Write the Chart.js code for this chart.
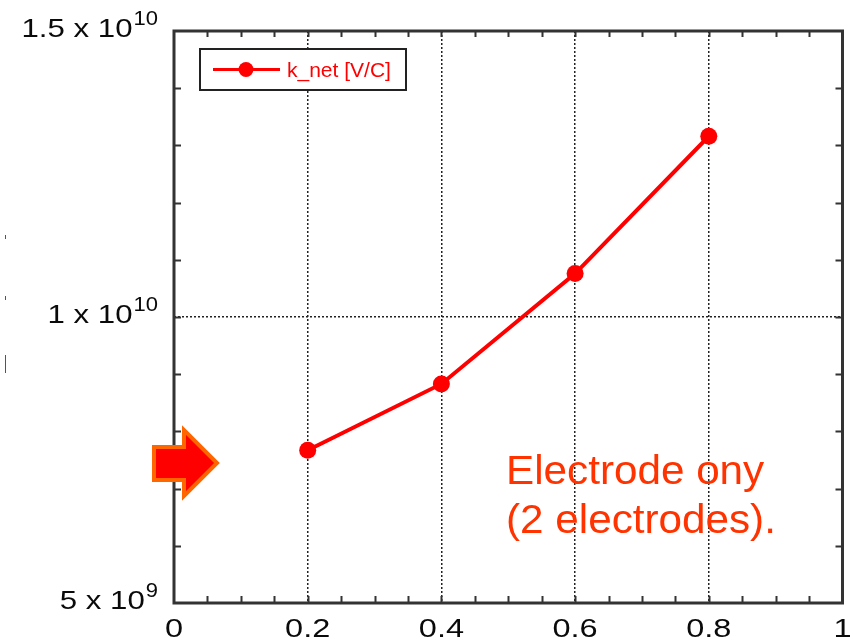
<!DOCTYPE html>
<html>
<head>
<meta charset="utf-8">
<title>k_net</title>
<script src="https://cdn.jsdelivr.net/npm/chart.js@4.4.1/dist/chart.umd.min.js"></script>
<style>
  html, body { margin: 0; padding: 0; background: #fff; }
  canvas { display: block; }
</style>
</head>
<body>
<canvas id="myChart" width="851" height="642"></canvas>
<script>
// measured values
const xValues = [0.2, 0.4, 0.6, 0.8];
const kNet = [7.67e9, 8.83e9, 1.076e10, 1.316e10];

// axis labels
const xTickValues = [0, 0.2, 0.4, 0.6, 0.8, 1];
const xTickLabels = ['0', '0.2', '0.4', '0.6', '0.8', '1'];
const yTickValues = [5e9, 1e10, 1.5e10];
const yTickMantissa = ['5', '1', '1.5'];
const yTickExponent = ['9', '10', '10'];

const seriesLabel = 'k_net [V/C]';
const noteLines = ['Electrode ony', '(2 electrodes).'];

const FONT = "Arial, 'Liberation Sans', sans-serif";

function isMajorX(v) {
	return v > 0.01 && v < 0.99 && Math.abs(v * 5 - Math.round(v * 5)) < 1e-6;
}
function isMajorY(v) {
	return Math.abs(v - 1e10) < 1;
}

// text widened along x, left edge at x
function wideText(ctx, text, x, y, sx) {
	ctx.save();
	ctx.translate(x, y);
	ctx.scale(sx, 1);
	ctx.fillText(text, 0, 0);
	ctx.restore();
}

// frame, inward ticks, labels, legend box, note and arrow
const framePlugin = {
	id: 'frame',
	afterDraw(chart) {
		const ctx = chart.ctx;
		const a = chart.chartArea;
		const xs = chart.scales.x;
		const ys = chart.scales.y;
		ctx.save();

		// ticks pointing into the plot
		ctx.strokeStyle = '#333';
		ctx.lineWidth = 2;
		ctx.beginPath();
		xs.ticks.forEach(t => {
			if (t.value <= 0.001 || t.value >= 0.999) return;
			const px = Math.round(xs.getPixelForValue(t.value)) + 0.5;
			ctx.moveTo(px, a.bottom); ctx.lineTo(px, a.bottom - 7);
			ctx.moveTo(px, a.top); ctx.lineTo(px, a.top + 6);
		});
		ys.ticks.forEach(t => {
			if (t.value <= 5e9 + 1 || t.value >= 1.5e10 - 1) return;
			const py = Math.round(ys.getPixelForValue(t.value)) + 0.5;
			ctx.moveTo(a.left, py); ctx.lineTo(a.left + 7, py);
			ctx.moveTo(a.right, py); ctx.lineTo(a.right - 7, py);
		});
		ctx.stroke();

		// box round the plot
		ctx.lineWidth = 3;
		ctx.strokeStyle = '#333';
		ctx.strokeRect(a.left, a.top, a.right - a.left, a.bottom - a.top);

		// x labels
		ctx.fillStyle = '#0a0a0a';
		ctx.font = '26px ' + FONT;
		ctx.textAlign = 'left';
		ctx.textBaseline = 'alphabetic';
		const sxX = 1.25;
		xTickValues.forEach((v, i) => {
			const w = ctx.measureText(xTickLabels[i]).width * sxX;
			wideText(ctx, xTickLabels[i], xs.getPixelForValue(v) - w / 2, 637, sxX);
		});

		// y labels with raised exponent
		const sxY = 1.2;
		yTickValues.forEach((v, i) => {
			const base = ys.getPixelForValue(v) + 6;
			const main = yTickMantissa[i] + ' x 10';
			ctx.font = '26px ' + FONT;
			const wMain = ctx.measureText(main).width * sxY;
			ctx.font = '20px ' + FONT;
			const wExp = ctx.measureText(yTickExponent[i]).width * 1.1;
			const x0 = 157 - wMain - wExp;
			ctx.font = '26px ' + FONT;
			wideText(ctx, main, x0, base, sxY);
			ctx.font = '20px ' + FONT;
			wideText(ctx, yTickExponent[i], x0 + wMain + 1, base - 12, 1.1);
		});

		// legend box
		const ds = chart.data.datasets[0];
		ctx.fillStyle = '#fff';
		ctx.fillRect(200, 49, 206, 41);
		ctx.lineWidth = 2;
		ctx.strokeStyle = '#222';
		ctx.strokeRect(200, 49, 206, 41);
		ctx.strokeStyle = ds.borderColor;
		ctx.lineWidth = 3;
		ctx.beginPath();
		ctx.moveTo(213, 69.5); ctx.lineTo(280, 69.5);
		ctx.stroke();
		ctx.fillStyle = ds.borderColor;
		ctx.beginPath();
		ctx.arc(246, 69.5, 7.5, 0, Math.PI * 2);
		ctx.fill();
		ctx.font = '21px ' + FONT;
		ctx.textBaseline = 'middle';
		ctx.fillText(ds.label, 287, 71);

		// note
		ctx.fillStyle = '#ff3300';
		ctx.font = '41px ' + FONT;
		ctx.textBaseline = 'alphabetic';
		wideText(ctx, noteLines[0], 506, 484, 1.03);
		wideText(ctx, noteLines[1], 506, 533, 1.03);

		// arrow
		ctx.beginPath();
		ctx.moveTo(154, 447);
		ctx.lineTo(184, 447);
		ctx.lineTo(184, 430);
		ctx.lineTo(217, 463);
		ctx.lineTo(184, 496);
		ctx.lineTo(184, 480);
		ctx.lineTo(154, 480);
		ctx.closePath();
		ctx.fillStyle = '#ff0000';
		ctx.fill();
		ctx.lineWidth = 4;
		ctx.lineJoin = 'miter';
		ctx.strokeStyle = '#ff6600';
		ctx.stroke();

		// small marks on the left edge
		ctx.strokeStyle = '#555';
		ctx.lineWidth = 1;
		ctx.beginPath();
		ctx.moveTo(5.5, 235); ctx.lineTo(5.5, 239);
		ctx.moveTo(5.5, 296); ctx.lineTo(5.5, 300);
		ctx.moveTo(5.5, 355); ctx.lineTo(5.5, 373);
		ctx.stroke();

		ctx.restore();
	}
};

const points = xValues.map((x, i) => ({x: x, y: kNet[i]}));

const myChart = document.getElementById('myChart');
new Chart(myChart, {
	type: 'line',
	data: {
		datasets: [{
			label: seriesLabel,
			data: points,
			borderColor: '#ff0000',
			backgroundColor: '#ff0000',
			borderWidth: 4,
			pointRadius: 8.5,
			pointBorderWidth: 0,
			pointBackgroundColor: '#ff0000',
			tension: 0
		}]
	},
	options: {
		responsive: false,
		animation: false,
		layout: {
			padding: {left: 174, top: 31, right: 8, bottom: 39}
		},
		plugins: {
			legend: {display: false},
			tooltip: {enabled: false}
		},
		scales: {
			x: {
				type: 'linear',
				min: 0,
				max: 1,
				ticks: {display: false, stepSize: 0.05},
				grid: {
					drawTicks: false,
					lineWidth: 1.5,
					color: c => isMajorX(c.tick.value) ? '#222' : 'rgba(0,0,0,0)'
				},
				border: {display: false, dash: [2, 2]}
			},
			y: {
				type: 'linear',
				min: 5e9,
				max: 1.5e10,
				ticks: {display: false, stepSize: 1e9},
				grid: {
					drawTicks: false,
					lineWidth: 1.5,
					color: c => isMajorY(c.tick.value) ? '#222' : 'rgba(0,0,0,0)'
				},
				border: {display: false, dash: [2, 2]}
			}
		}
	},
	plugins: [framePlugin]
});
</script>
</body>
</html>
